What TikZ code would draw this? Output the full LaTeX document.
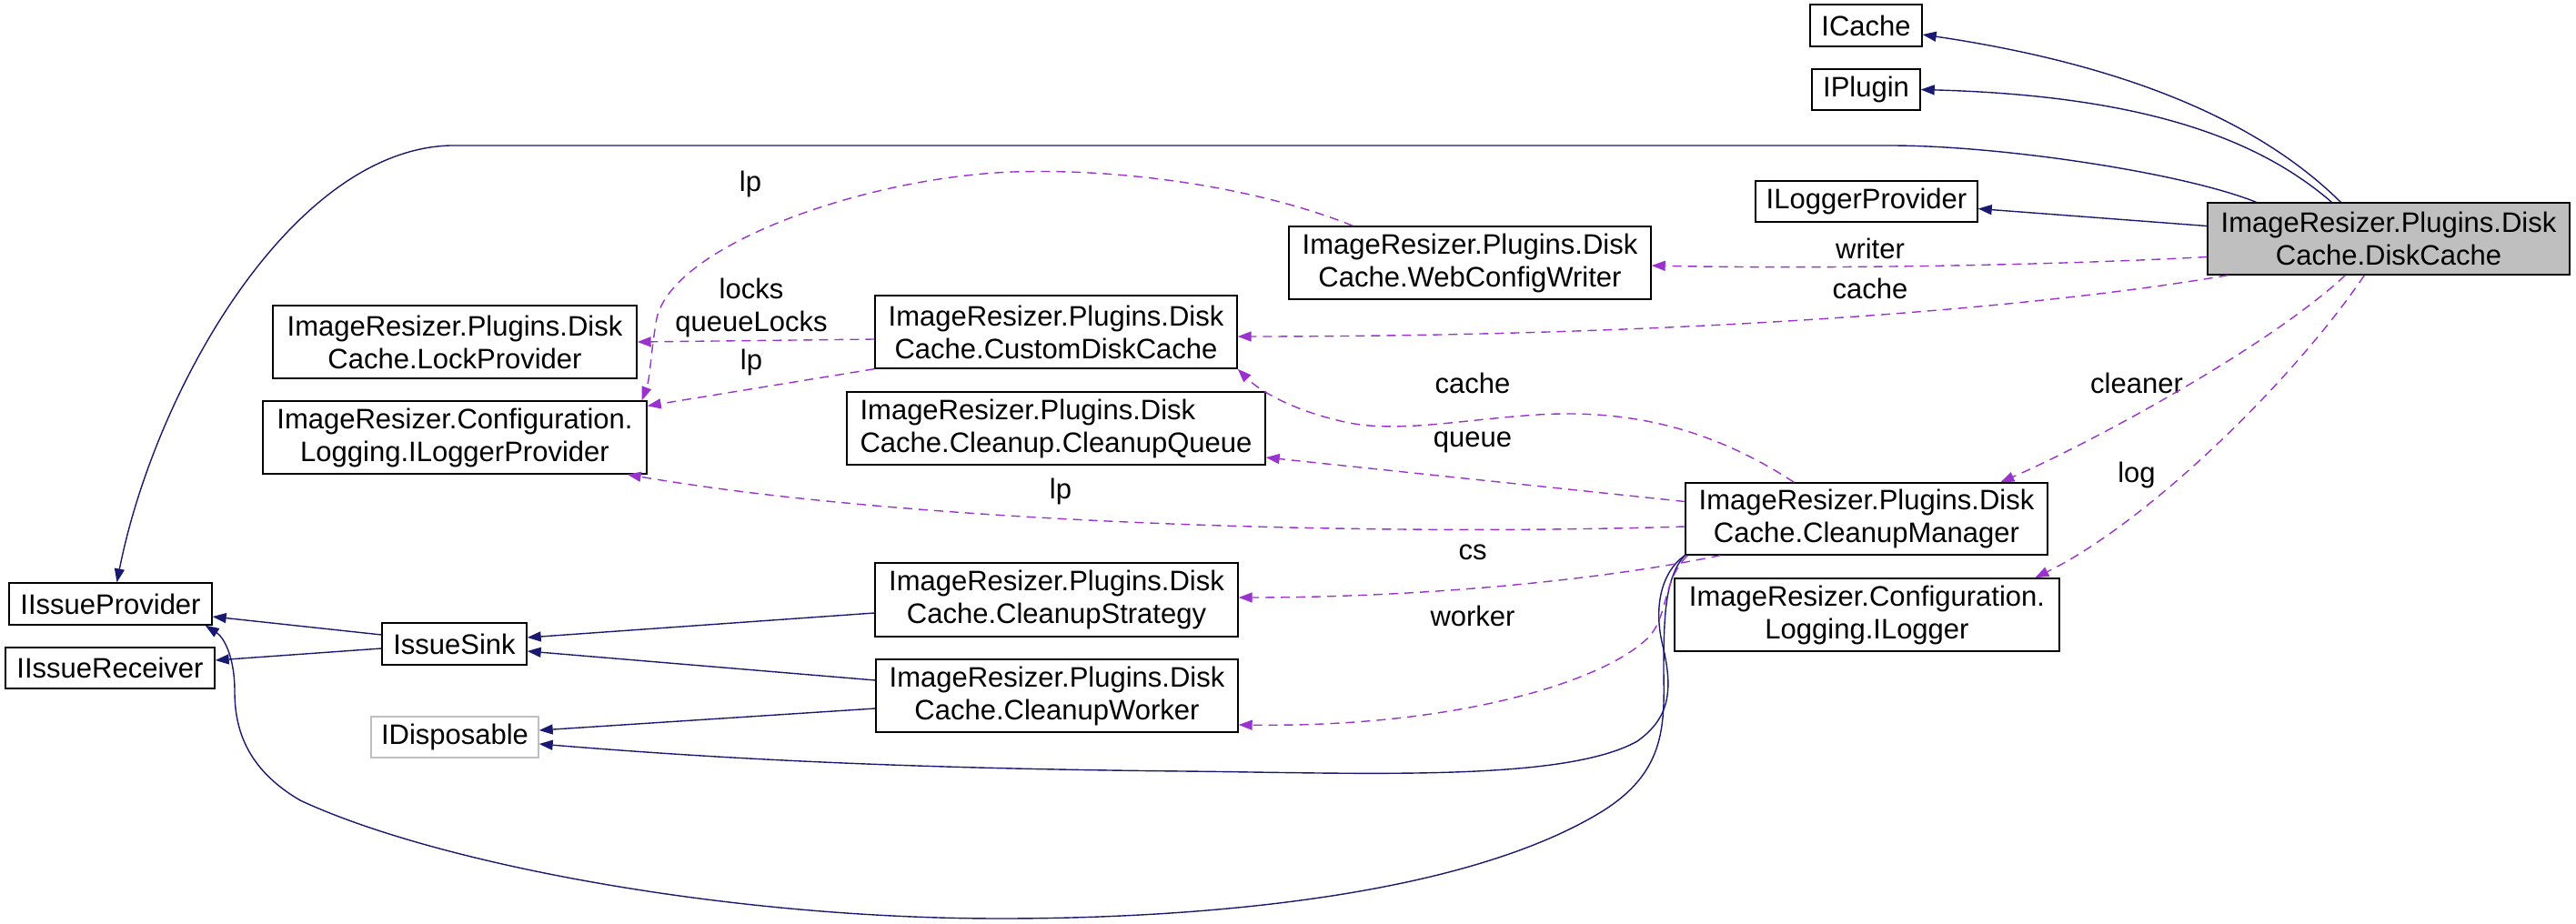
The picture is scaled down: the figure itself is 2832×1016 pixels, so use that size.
\documentclass[tikz,border=0pt]{standalone}
\usepackage{fontspec}
\setmainfont{Liberation Sans}
\usetikzlibrary{arrows.meta,calc}
\definecolor{navyedge}{HTML}{191970}
\definecolor{orchidedge}{HTML}{9A32CD}
\definecolor{dcfill}{HTML}{BFBFBF}
\begin{document}
\begin{tikzpicture}[x=1pt,y=-1pt,
  box/.style={draw=black, line width=1.4pt, inner sep=0pt, align=center, font=\fontsize{31}{36}\selectfont},
  elabel/.style={inner sep=0pt, align=center, font=\fontsize{31}{36}\selectfont},
  solidedge/.style={draw=navyedge, line width=1.4pt, -{Triangle[length=15pt,width=11pt]}},
  dashededge/.style={draw=orchidedge, line width=1.4pt, dash pattern=on 10pt off 7pt, -{Triangle[length=15pt,width=11pt]}},
]
\useasboundingbox (0,0) rectangle (2832,1016);

% nodes
\node[box, minimum width=123pt, minimum height=46pt] (icache) at (2051.5,28) {ICache};
\node[box, minimum width=119pt, minimum height=45pt] (iplugin) at (2051.5,98.5) {IPlugin};
\node[box, minimum width=244pt, minimum height=45pt] (ilp) at (2052,221.5) {ILoggerProvider};
\node[box, fill=dcfill, minimum width=398pt, minimum height=79pt] (dc) at (2626,262.5) {ImageResizer.Plugins.Disk\\Cache.DiskCache};
\node[box, minimum width=398pt, minimum height=80pt] (wcw) at (1616,289) {ImageResizer.Plugins.Disk\\Cache.WebConfigWriter};
\node[box, minimum width=398pt, minimum height=80pt] (cdc) at (1161,365) {ImageResizer.Plugins.Disk\\Cache.CustomDiskCache};
\node[box, minimum width=400pt, minimum height=80pt] (lockp) at (500,376) {ImageResizer.Plugins.Disk\\Cache.LockProvider};
\node[box, minimum width=422pt, minimum height=80pt] (cilp) at (500,481) {ImageResizer.Configuration.\\Logging.ILoggerProvider};
\node[box, align=left, minimum width=460pt, minimum height=80pt] (cq) at (1161,471) {ImageResizer.Plugins.Disk\\Cache.Cleanup.CleanupQueue};
\node[box, minimum width=398pt, minimum height=79pt] (cm) at (2052,570.5) {ImageResizer.Plugins.Disk\\Cache.CleanupManager};
\node[box, minimum width=423pt, minimum height=80pt] (clog) at (2052.5,676) {ImageResizer.Configuration.\\Logging.ILogger};
\node[box, minimum width=399pt, minimum height=81pt] (cs) at (1161.5,659.5) {ImageResizer.Plugins.Disk\\Cache.CleanupStrategy};
\node[box, minimum width=398pt, minimum height=80pt] (cw) at (1162,765) {ImageResizer.Plugins.Disk\\Cache.CleanupWorker};
\node[box, minimum width=223pt, minimum height=46pt] (iip) at (121.5,664) {IIssueProvider};
\node[box, minimum width=230pt, minimum height=45pt] (iir) at (121,734.5) {IIssueReceiver};
\node[box, minimum width=159pt, minimum height=46pt] (isink) at (499.5,708) {IssueSink};
\node[box, draw=black!25, minimum width=184pt, minimum height=45pt] (idisp) at (500,810.5) {IDisposable};

% edge labels
\node[elabel] (lwriter) at (2056,273) {writer};
\node[elabel] (lcache1) at (2056,317) {cache};
\node[elabel] (lcleaner) at (2349,421) {cleaner};
\node[elabel] (llog) at (2349,522) {log};
\node[elabel] (llp1) at (825,202) {lp};
\node[elabel] (llocks) at (826,338) {locks\\queueLocks};
\node[elabel] (llp2) at (826,398) {lp};
\node[elabel] (lcache2) at (1619,421) {cache};
\node[elabel] (lqueue) at (1619,486) {queue};
\node[elabel] (llp3) at (1166,540) {lp};
\node[elabel] (lcs) at (1619,607) {cs};
\node[elabel] (lworker) at (1619,677) {worker};

% solid (inheritance) edges
\draw[solidedge] ($(dc.north west)+(147,0)$) .. controls (2480,130) and (2330,70) .. ($(icache.east)+(0,10)$);
\draw[solidedge] ($(dc.north west)+(137,0)$) .. controls (2480,150) and (2350,105) .. (iplugin.east);
\draw[solidedge] ($(dc.north west)+(54,0)$) .. controls (2400,190) and (2200,160) .. (2078,160) -- (495,160) .. controls (320,165) and (170,430) .. ($(iip.north)+(7,0)$);
\draw[solidedge] ($(dc.west)+(0,-14)$) -- ($(ilp.east)+(0,8)$);
\draw[solidedge] ($(isink.west)+(0,-10)$) -- ($(iip.east)+(0,14)$);
\draw[solidedge] ($(isink.west)+(0,5)$) -- ($(iir.east)+(0,-8.5)$);
\draw[solidedge] ($(cs.west)+(0,14.5)$) -- ($(isink.east)+(0,-7)$);
\draw[solidedge] ($(cw.west)+(0,-17)$) -- ($(isink.east)+(0,8)$);
\draw[solidedge] ($(cw.west)+(0,14)$) -- ($(idisp.east)+(0,-7.5)$);
\draw[solidedge] (cm.south west) .. controls (1825,630) and (1818,670) .. (1828,710) .. controls (1840,760) and (1835,790) .. (1800,815) .. controls (1720,860) and (1500,850) .. (1300,848) .. controls (1000,845) and (800,835) .. ($(idisp.east)+(0,7.5)$);
\draw[solidedge] (cm.south west) .. controls (1830,635) and (1829,680) .. (1829,740) .. controls (1830,800) and (1830,850) .. (1760,893) .. controls (1600,990) and (1300,1010) .. (1100,1010) .. controls (800,1010) and (480,950) .. (330,880) .. controls (270,845) and (258,800) .. (258,760) .. controls (258,720) and (245,700) .. ($(iip.south east)+(-8,0)$);

% dashed (usage) edges
\draw[dashededge] ($(dc.west)+(0,20)$) .. controls (2250,292) and (2000,296) .. ($(wcw.east)+(0,3)$);
\draw[dashededge] ($(dc.south west)+(23,0)$) .. controls (2200,345) and (1800,370) .. ($(cdc.east)+(0,5)$);
\draw[dashededge] ($(dc.south west)+(152,0)$) .. controls (2491,384) and (2292,490) .. ($(cm.north west)+(347,0)$);
\draw[dashededge] ($(dc.south west)+(173,0)$) .. controls (2520,420) and (2360,575) .. ($(clog.north west)+(397,0)$);
\draw[dashededge] ($(wcw.north west)+(71,0)$) .. controls (1380,205) and (1230,185) .. (1114,189) .. controls (950,195) and (740,270) .. (722,350) .. controls (715,390) and (715,415) .. ($(cilp.north east)+(-6,0)$);
\draw[dashededge] ($(cdc.west)+(0,8)$) -- (lockp.east);
\draw[dashededge] (cdc.south west) -- ($(cilp.north east)+(0,6)$);
\draw[dashededge] ($(cm.north west)+(120,0)$) .. controls (1880,470) and (1790,450) .. (1690,456) .. controls (1600,462) and (1530,478) .. (1470,462) .. controls (1420,450) and (1385,430) .. (cdc.south east);
\draw[dashededge] ($(cm.west)+(0,-19)$) -- ($(cq.east)+(0,32)$);
\draw[dashededge] ($(cm.west)+(0,8.5)$) .. controls (1500,590) and (1000,575) .. ($(cilp.south east)+(-22,0)$);
\draw[dashededge] ($(cm.south west)+(39,0)$) .. controls (1750,640) and (1550,657) .. ($(cs.east)+(0,-2.5)$);
\draw[dashededge] ($(cm.south west)+(3,0)$) .. controls (1826,640) and (1835,680) .. (1810,703) .. controls (1760,750) and (1600,800) .. ($(cw.east)+(0,32)$);
\end{tikzpicture}
\end{document}
